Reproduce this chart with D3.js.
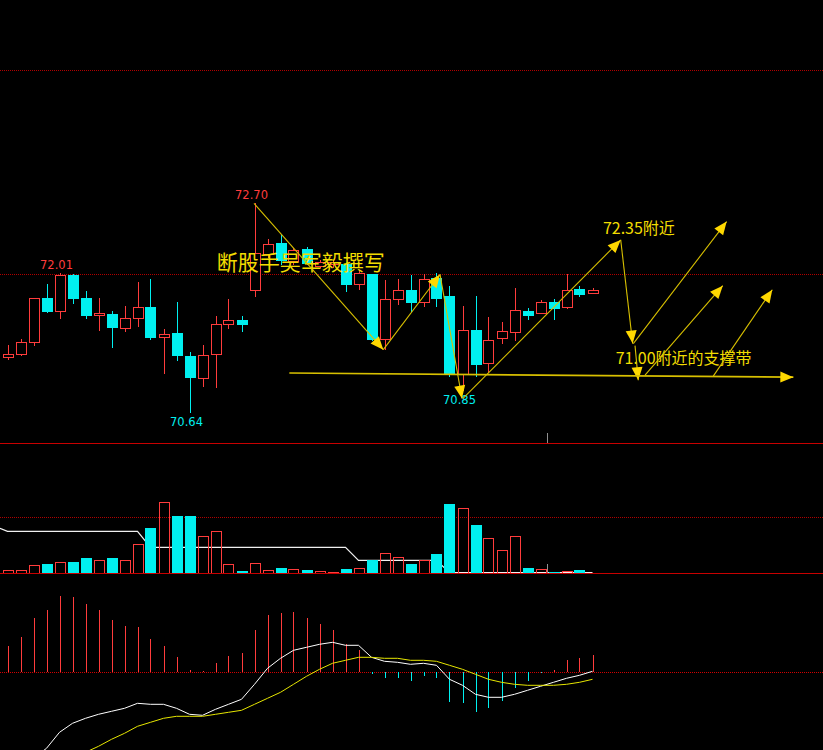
<!DOCTYPE html>
<html><head><meta charset="utf-8">
<script src="https://cdn.jsdelivr.net/npm/d3@7/dist/d3.min.js"></script>
<style>html,body{margin:0;padding:0;background:#000;overflow:hidden}</style>
</head><body>
<svg id="chart" width="823" height="750"></svg>
<script>
// ---------- data ----------
const categories = d3.range(46); // 46 K-line bars, index order
const open  = [71.19,71.22,71.34,71.77,71.64,71.99,71.77,71.60,71.61,71.47,71.57,71.68,71.38,71.42,71.20,70.98,71.21,71.51,71.55,71.85,72.20,72.31,72.13,72.25,72.08,72.10,72.10,71.90,72.00,71.37,71.76,71.85,71.73,71.97,71.79,71.02,71.45,71.13,71.37,71.43,71.64,71.62,71.73,71.68,71.86,71.82];
const high  = [71.31,71.37,71.77,71.91,72.01,72.00,71.84,71.77,71.64,71.69,71.93,71.96,71.46,71.73,71.24,71.31,71.59,71.76,71.59,72.70,72.35,72.39,72.26,72.27,72.14,72.14,72.12,72.04,72.00,71.95,71.96,71.99,72.00,72.01,71.89,71.69,71.79,71.58,71.53,71.87,71.67,71.75,71.76,72.00,71.89,71.87];
const low   = [71.16,71.20,71.30,71.62,71.56,71.71,71.56,71.44,71.28,71.43,71.48,71.36,71.02,71.15,70.64,70.89,70.88,71.46,71.43,71.78,72.16,72.09,72.09,72.09,72.06,72.06,71.83,71.85,71.35,71.26,71.70,71.63,71.68,71.68,70.99,70.85,70.99,71.03,71.32,71.35,71.55,71.61,71.55,71.66,71.78,71.81];
const close = [71.22,71.34,71.77,71.64,71.99,71.76,71.60,71.62,71.48,71.57,71.68,71.38,71.41,71.20,70.99,71.21,71.51,71.55,71.51,72.21,72.30,72.14,72.24,72.11,72.12,72.12,71.90,72.01,71.36,71.76,71.85,71.73,71.96,71.77,71.02,71.45,71.12,71.36,71.44,71.65,71.60,71.73,71.67,71.85,71.81,71.85];
const volume = [300,300,800,930,1100,1130,1530,1300,1530,1300,2900,4530,7100,5730,5730,3700,4200,900,230,1000,300,530,400,330,230,130,430,500,1300,2000,1600,930,1300,1930,6930,6500,4830,3500,2300,3700,530,400,130,230,330,0];
const volLineLead = {i:-0.58, v:4500};   // line enters from the left edge
const volLine = [4200,4200,4200,4200,4200,4200,4200,4200,4200,4200,4200,2600,2600,2600,2600,2600,2600,2600,2600,2600,2600,2600,2600,2600,2600,2600,2600,1300,1300,1300,1300,1300,1300,1300,60,60,60,60,60,60,60,60,60,60,60,60];
const macdBar = [0.026,0.035,0.054,0.062,0.076,0.075,0.068,0.062,0.052,0.046,0.045,0.033,0.026,0.015,0.002,0.001,0.009,0.016,0.019,0.042,0.057,0.059,0.060,0.054,0.048,0.042,0.028,0.022,-0.002,-0.006,-0.006,-0.009,-0.004,-0.006,-0.030,-0.031,-0.040,-0.036,-0.029,-0.016,-0.009,-0.0008,0.002,0.012,0.014,0.017];
const dif = [-0.105,-0.098,-0.086,-0.076,-0.060,-0.051,-0.046,-0.042,-0.039,-0.036,-0.031,-0.032,-0.032,-0.036,-0.042,-0.043,-0.037,-0.032,-0.027,-0.012,0.004,0.014,0.022,0.025,0.028,0.030,0.027,0.027,0.015,0.011,0.010,0.008,0.009,0.007,-0.007,-0.013,-0.022,-0.025,-0.025,-0.022,-0.018,-0.014,-0.010,-0.006,-0.003,0.001];
const dea = [-0.118,-0.115,-0.110,-0.104,-0.096,-0.088,-0.080,-0.074,-0.067,-0.061,-0.054,-0.050,-0.046,-0.044,-0.044,-0.044,-0.042,-0.040,-0.038,-0.032,-0.026,-0.020,-0.012,-0.004,0.003,0.009,0.012,0.015,0.015,0.014,0.014,0.012,0.012,0.011,0.007,0.003,-0.002,-0.007,-0.010,-0.012,-0.013,-0.013,-0.013,-0.012,-0.010,-0.007];
const priceRefLines = [74.01, 72.00];
const volRefLine = 5600;
const priceLabels = [{i:19, v:72.70, t:"72.70", kind:"high"},{i:4, v:72.01, t:"72.01", kind:"high"},{i:14, v:70.64, t:"70.64", kind:"low"},{i:35, v:70.85, t:"70.85", kind:"low"}];
// annotation arrows in (bar index, price) coordinates
const arrows = [
  [18.96,72.70,28.91,71.26],[28.91,71.26,33.27,72.00],[33.27,72.00,34.96,70.78],
  [35.04,70.78,47.17,72.34],[47.17,72.34,48.09,71.32],[48.14,71.32,55.32,72.52],
  [48.27,71.30,48.52,70.96],[49.04,71.01,55.02,71.89],[54.29,71.00,58.83,71.85],
  [21.68,71.03,60.45,70.99]
];
const notes = [
  {i:16.1, v:72.045, t:"断股手吴军毅撰写", size:21},
  {i:45.8, v:72.40, t:"72.35附近", size:16},
  {i:46.78, v:71.115, t:"71.00附近的支撑带", size:16}
];
const cursorIndex = 41.52;

// ---------- setup ----------
const W = 823, H = 750;
const RED = "#ff3c3c", CYAN = "#00f0f0", YEL = "#f2dc00";
const svg = d3.select("#chart");
svg.append("rect").attr("width", W).attr("height", H).attr("fill", "#000");

const x = d3.scaleLinear().domain([0, 45]).range([7.5, 592.5]);
const yP = d3.scaleLinear().domain([70.342, 74.70]).range([443, 0]);
const yV = d3.scaleLinear().domain([0, 13000]).range([573.3, 443.3]);
const yM = d3.scaleLinear().domain([-0.0777, 0.0990]).range([750, 573.3]);
const px = v => Math.round(v) + 0.5;

const defs = svg.append("defs");
defs.append("clipPath").attr("id","cpP").append("rect").attr("x",0).attr("y",0).attr("width",W).attr("height",443);
defs.append("clipPath").attr("id","cpV").append("rect").attr("x",0).attr("y",444).attr("width",W).attr("height",130);
defs.append("clipPath").attr("id","cpM").append("rect").attr("x",0).attr("y",574).attr("width",W).attr("height",176);

// ---------- price panel ----------
const gP = svg.append("g").attr("clip-path","url(#cpP)");
gP.selectAll("line.ref").data(priceRefLines).join("line")
  .attr("x1",0).attr("x2",W).attr("y1",d=>px(yP(d))).attr("y2",d=>px(yP(d)))
  .attr("stroke","#b00000").attr("stroke-dasharray","1,1");

const bars = categories.map(i => ({i, o:open[i], h:high[i], l:low[i], c:close[i], up: close[i] >= open[i]}));
const gC = gP.append("g").attr("shape-rendering","crispEdges");
gC.selectAll("line.wick").data(bars).join("line")
  .attr("x1",d=>px(x(d.i))).attr("x2",d=>px(x(d.i)))
  .attr("y1",d=>yP(d.h)).attr("y2",d=>yP(d.l))
  .attr("stroke",d=>d.up?RED:CYAN);
gC.selectAll("rect.body").data(bars).join("rect")
  .attr("x",d=>Math.round(x(d.i))-4.5).attr("width",10)
  .attr("y",d=>Math.round(yP(Math.max(d.o,d.c)))+0.5)
  .attr("height",d=>Math.max(1,Math.round(yP(Math.min(d.o,d.c))-yP(Math.max(d.o,d.c)))))
  .attr("fill",d=>d.up?"#000":CYAN).attr("stroke",d=>d.up?RED:CYAN);

gP.selectAll("text.lbl").data(priceLabels).join("text")
  .attr("x",d=>x(d.i)-3).attr("y",d=>d.kind==="high"?yP(d.v)-4:yP(d.v)+13)
  .attr("text-anchor","middle").attr("font-family","DejaVu Sans, sans-serif").attr("font-size",11.5)
  .attr("fill",d=>d.kind==="high"?RED:CYAN).text(d=>d.t);

// separator lines
svg.append("line").attr("x1",0).attr("x2",W).attr("y1",443.5).attr("y2",443.5).attr("stroke","#c80000");
svg.append("line").attr("x1",px(x(cursorIndex))).attr("x2",px(x(cursorIndex))).attr("y1",433).attr("y2",443).attr("stroke","#909090");

// ---------- volume panel ----------
const gV = svg.append("g").attr("clip-path","url(#cpV)");
gV.append("line").attr("x1",0).attr("x2",W).attr("y1",px(yV(volRefLine))).attr("y2",px(yV(volRefLine)))
  .attr("stroke","#b00000").attr("stroke-dasharray","1,1");
const volPts = [[volLineLead.i, volLineLead.v]].concat(volLine.map((v,i)=>[i,v]));
gV.append("path").datum(volPts)
  .attr("d", d3.line().x(d=>x(d[0])).y(d=>yV(d[1])))
  .attr("fill","none").attr("stroke","#f0f0f0").attr("stroke-width",1.2);
gV.append("g").attr("shape-rendering","crispEdges").selectAll("rect").data(bars).join("rect")
  .attr("x",d=>Math.round(x(d.i))-4.5).attr("width",10)
  .attr("y",d=>Math.round(yV(volume[d.i]))+0.5)
  .attr("height",d=>Math.max(0,Math.round(yV(0)-yV(volume[d.i]))))
  .attr("fill",d=>d.up?"none":CYAN).attr("stroke",d=>d.up?RED:CYAN)
  .attr("display",d=>volume[d.i]>0?null:"none");
svg.append("line").attr("x1",0).attr("x2",W).attr("y1",573.5).attr("y2",573.5).attr("stroke","#c80000");
svg.append("line").attr("x1",px(x(cursorIndex))).attr("x2",px(x(cursorIndex))).attr("y1",564).attr("y2",573).attr("stroke","#909090");

// ---------- MACD panel ----------
const gM = svg.append("g").attr("clip-path","url(#cpM)");
gM.append("line").attr("x1",0).attr("x2",W).attr("y1",px(yM(0))).attr("y2",px(yM(0)))
  .attr("stroke","#d00000").attr("stroke-dasharray","1,1");
gM.append("g").attr("shape-rendering","crispEdges").selectAll("line").data(categories).join("line")
  .attr("x1",i=>px(x(i))).attr("x2",i=>px(x(i)))
  .attr("y1",yM(0)).attr("y2",i=>yM(macdBar[i]))
  .attr("stroke",i=>macdBar[i]>=0?RED:CYAN);
gM.append("path").datum(dif).attr("d",d3.line().x((d,i)=>x(i)).y(d=>yM(d)))
  .attr("fill","none").attr("stroke","#ffffff").attr("stroke-width",1);
gM.append("path").datum(dea).attr("d",d3.line().x((d,i)=>x(i)).y(d=>yM(d)))
  .attr("fill","none").attr("stroke","#e6e600").attr("stroke-width",1);

// ---------- annotations ----------
const gA = svg.append("g");
gA.selectAll("text.note").data(notes).join("text")
  .attr("x",d=>x(d.i)).attr("y",d=>yP(d.v))
  .attr("font-family","'Noto Sans CJK SC', sans-serif").attr("font-size",d=>d.size)
  .attr("fill",YEL).text(d=>d.t);
arrows.forEach((a, k) => {
  const x1 = x(a[0]), y1 = yP(a[1]), x2 = x(a[2]), y2 = yP(a[3]);
  gA.append("line").attr("x1",x1).attr("y1",y1).attr("x2",x2).attr("y2",y2)
    .attr("stroke","#d8c000").attr("stroke-width", k===arrows.length-1?1.6:1.1);
  const ang = Math.atan2(y2-y1, x2-x1), L = 13, Wd = 5.5;
  const bx = x2 - L*Math.cos(ang), by = y2 - L*Math.sin(ang);
  const p1 = [bx + Wd*Math.sin(ang), by - Wd*Math.cos(ang)];
  const p2 = [bx - Wd*Math.sin(ang), by + Wd*Math.cos(ang)];
  gA.append("path").attr("d",`M${x2},${y2}L${p1[0]},${p1[1]}L${p2[0]},${p2[1]}Z`).attr("fill","#ffd800");
});
</script>
</body></html>
